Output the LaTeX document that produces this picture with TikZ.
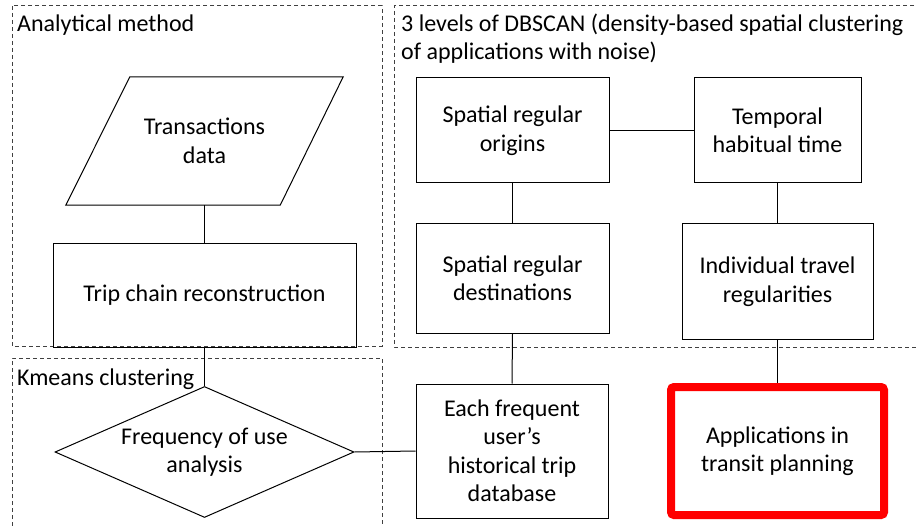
\documentclass[tikz,border=0pt]{standalone}
\usepackage{fontspec}
\setmainfont{Carlito}
\usetikzlibrary{shapes.geometric,calc}
\begin{document}
\begin{tikzpicture}[x=1pt,y=-1pt,
  every node/.style={font=\fontsize{24}{28.5}\selectfont},
  box/.style={draw=black,line width=1pt,rectangle,inner sep=0pt,align=center},
  conn/.style={draw=black,line width=1pt},
  group/.style={draw=black!75,line width=1pt,dash pattern=on 4pt off 3pt},
  title/.style={anchor=base west,inner sep=0pt,align=left}]
\useasboundingbox (0,0) rectangle (917,526);
% group frames
\draw[group] (12,6) rectangle (382,346);
\draw[group] (935,6) -- (394,6) -- (394,347) -- (935,347);
\draw[group] (12,540) -- (12,358) -- (382,358) -- (382,540);
% titles
\node[title] (t1) at (17,32) {Analytical method};
\node[title] (t2) at (401,32) {3 levels of DBSCAN (density-based spatial clustering};
\node[title] (t2b) at (401,60) {of applications with noise)};
\node[title] (t3) at (17,385) {Kmeans clustering};
% nodes
\node[inner sep=0pt,minimum width=277pt,minimum height=128pt,align=center] (trans) at (204.5,141) {Transactions\\data};
\draw[line width=1pt] ($(trans.north west)+(64,0)$) -- (trans.north east) -- ($(trans.south east)+(-63,0)$) -- (trans.south west) -- cycle;
\node[box,minimum width=303pt,minimum height=103pt] (trip) at (204.5,295.5) {Trip chain reconstruction};
\node[draw=black,line width=1pt,diamond,aspect=2.28,inner sep=0pt,minimum width=299pt,minimum height=131pt,align=center] (freq) at (204.5,452) {Frequency of use\\analysis};
\node[box,minimum width=193pt,minimum height=105pt] (orig) at (512.5,130.5) {Spatial regular\\origins};
\node[box,minimum width=167pt,minimum height=105pt] (temp) at (777.5,130.5) {Temporal\\habitual time};
\node[box,minimum width=193pt,minimum height=109pt] (dest) at (512.5,278.5) {Spatial regular\\destinations};
\node[box,minimum width=191pt,minimum height=115pt] (indiv) at (777.5,281.5) {Individual travel\\regularities};
\node[box,minimum width=192pt,minimum height=134pt] (each) at (512,451) {Each frequent\\user’s\\historical trip\\database};
\node[draw=red,line width=8pt,rounded corners=3pt,rectangle,inner sep=0pt,align=center,minimum width=213pt,minimum height=128pt] (app) at (777.5,451) {Applications in\\transit planning};
% connectors
\draw[conn] (trans.south) -- (trip.north);
\draw[conn] (trip.south) -- (freq.north);
\draw[conn] (freq.east) -- (each.west);
\draw[conn] (orig.east) -- (temp.west);
\draw[conn] (orig.south) -- (dest.north);
\draw[conn] (temp.south) -- (indiv.north);
\draw[conn] (dest.south) -- (each.north);
\draw[conn] (indiv.south) -- (app.north);
\end{tikzpicture}
\end{document}
